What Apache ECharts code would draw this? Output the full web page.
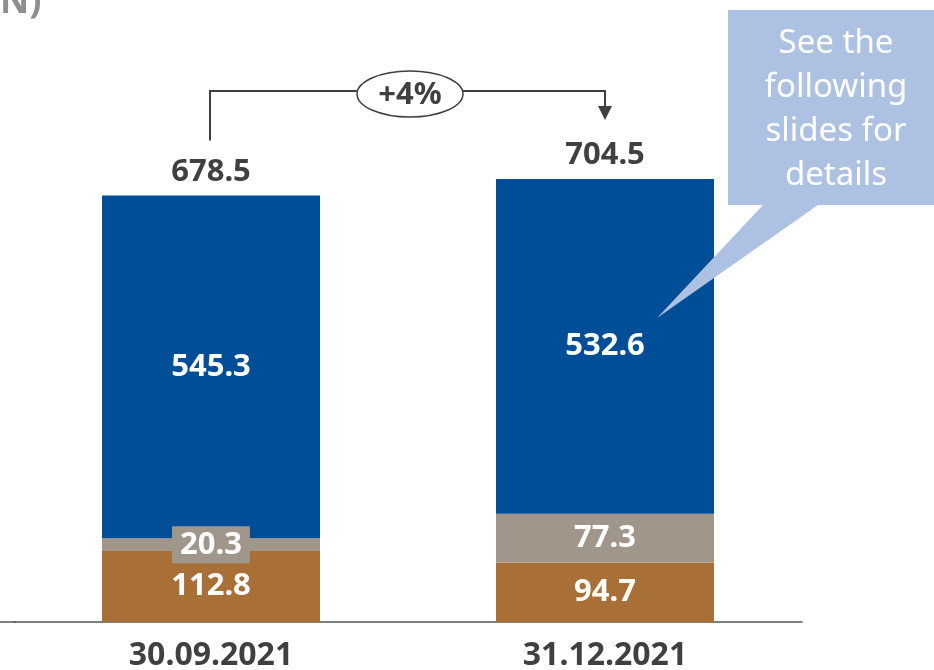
<!DOCTYPE html>
<html>
<head>
<meta charset="utf-8">
<script src="https://cdn.jsdelivr.net/npm/echarts@6/dist/echarts.min.js"></script>
<style>
  html, body { margin: 0; padding: 0; background: #fff; }
  #chart { width: 934px; height: 670px; }
</style>
</head>
<body>
<div id="chart"></div>
<script>
// Period-end balances, stacked by component
const categories = ['30.09.2021', '31.12.2021'];
const brownValues = [112.8, 94.7];
const greyValues = [20.3, 77.3];
const blueValues = [545.3, 532.6];
const totals = [678.5, 704.5];
const changeLabel = '+4%';
const calloutLines = ['See the', 'following', 'slides for', 'details'];

const FONT = 'Noto Sans';
const DARK = '#404040';
const BLUE = '#004d98';
const GREY = '#a0968a';
const BROWN = '#a86f37';
const CALLOUT = '#adc2e2';

const chart = echarts.init(document.getElementById('chart'));

const valueLabel = {
  show: true,
  position: 'inside',
  color: '#ffffff',
  fontFamily: FONT,
  fontWeight: 'bold',
  fontSize: 31
};

const option = {
  animation: false,
  grid: { left: 14, right: 132, top: 119, bottom: 48, containLabel: false, outerBoundsMode: 'none' },
  xAxis: {
    type: 'category',
    data: categories,
    axisLine: { lineStyle: { color: '#555555', width: 1.5 } },
    axisTick: { show: false },
    axisLabel: {
      color: DARK, fontFamily: FONT, fontWeight: 'bold', fontSize: 32, margin: 18
    }
  },
  yAxis: { type: 'value', min: 0, max: 800, show: false, splitLine: { show: false } },
  series: [
    {
      type: 'bar', stack: 'total', data: brownValues, barWidth: 218,
      itemStyle: { color: BROWN },
      label: valueLabel
    },
    {
      type: 'bar', stack: 'total', data: greyValues,
      itemStyle: { color: GREY },
      label: Object.assign({}, valueLabel, { backgroundColor: GREY, padding: [4, 8, 2, 8] })
    },
    {
      type: 'bar', stack: 'total', data: blueValues,
      itemStyle: { color: BLUE },
      label: valueLabel
    },
    {
      // totals printed above each stack
      type: 'scatter', data: totals, symbolSize: 0, silent: true,
      itemStyle: { opacity: 1 },
      label: {
        show: true, position: 'top', distance: 8,
        formatter: p => p.value.toFixed(1),
        color: DARK, fontFamily: FONT, fontWeight: 'bold', fontSize: 31
      }
    }
  ]
};
chart.setOption(option);

// Growth bracket between the two totals, anchored to the bar positions
const p0 = chart.convertToPixel({ xAxisIndex: 0, yAxisIndex: 0 }, [0, 0]);
const p1 = chart.convertToPixel({ xAxisIndex: 0, yAxisIndex: 0 }, [0, totals[0]]);
const p2 = chart.convertToPixel({ xAxisIndex: 0, yAxisIndex: 0 }, [1, totals[1]]);
const baseY = p0[1];
const topY = 91;
const startY = p1[1] - 55;
const tipY = p2[1] - 59;
const midX = (p1[0] + p2[0]) / 2 + 2;

chart.setOption({
  graphic: [
    {
      // axis line continues to the left edge
      type: 'line', z: 100, shape: { x1: 0, y1: baseY, x2: 16, y2: baseY },
      style: { stroke: '#555555', lineWidth: 1.5 }
    },
    {
      type: 'polyline', z: 100,
      shape: { points: [[p1[0] - 1, startY], [p1[0] - 1, topY], [p2[0], topY], [p2[0], tipY - 13]] },
      style: { stroke: DARK, lineWidth: 2, fill: null }
    },
    {
      type: 'polygon', z: 100,
      shape: { points: [[p2[0] - 7, tipY - 14], [p2[0] + 7, tipY - 14], [p2[0], tipY]] },
      style: { fill: DARK }
    },
    {
      type: 'ellipse', z: 100,
      shape: { cx: midX, cy: 94, rx: 53, ry: 23 },
      style: { fill: '#ffffff', stroke: DARK, lineWidth: 1.5 }
    },
    {
      type: 'text', z: 101, x: midX, y: 95,
      style: {
        text: changeLabel, align: 'center', verticalAlign: 'middle',
        fill: DARK, font: 'bold 31px "' + FONT + '"'
      }
    },
    {
      // callout bubble
      type: 'polygon', z: 100,
      shape: { points: [[728, 10], [934, 10], [934, 205], [818, 205], [657, 318], [763, 205], [728, 205]] },
      style: { fill: CALLOUT }
    },
    {
      type: 'text', z: 101, x: 836, y: 22,
      style: {
        text: calloutLines.join('\n'), align: 'center', verticalAlign: 'top',
        lineHeight: 44, fill: '#ffffff', font: '33px "' + FONT + '"'
      }
    },
    {
      type: 'text', z: 100, x: 0, y: -15,
      style: { text: 'N)', fill: '#8e8e8e', font: 'bold 36px "' + FONT + '"' }
    }
  ]
});
</script>
</body>
</html>
